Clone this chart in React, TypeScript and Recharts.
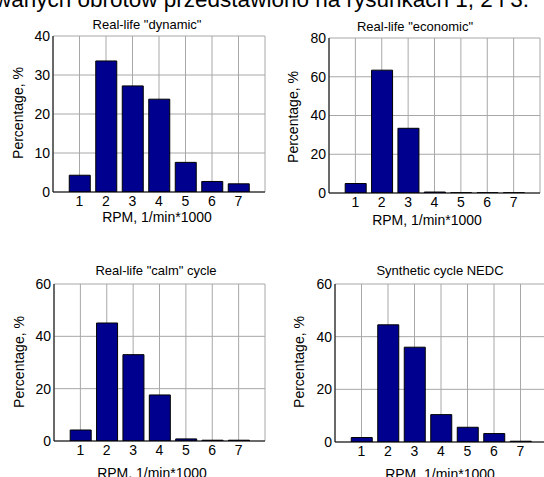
import React from "react";
import { BarChart, Bar, XAxis, YAxis, CartesianGrid } from "recharts";

// engine speed bins, 1/min * 1000
const rpm = [1, 2, 3, 4, 5, 6, 7];

// share of time spent in each speed bin, %
const dynamicShare = [4.3, 33.6, 27.2, 23.8, 7.6, 2.7, 2.1];
const economicShare = [4.9, 63.4, 33.4, 0.5, 0.1, 0.1, 0.1];
const calmShare = [4.2, 45.1, 33.0, 17.6, 0.8, 0.3, 0.3];
const nedcShare = [1.7, 44.5, 36.0, 10.4, 5.6, 3.2, 0.3];

const ticks40 = [0, 10, 20, 30, 40];
const ticks80 = [0, 20, 40, 60, 80];
const ticks60 = [0, 20, 40, 60];

const titles = [
  'Real-life "dynamic"',
  'Real-life "economic"',
  'Real-life "calm" cycle',
  "Synthetic cycle NEDC",
];

const FONT = '"Liberation Sans", Arial, Helvetica, sans-serif';
const BAR = "#00008f";
const GRID = "#a8a8a8";

const toRows = (values: number[]) => rpm.map((r, i) => ({ rpm: r, pct: values[i] }));

interface PanelProps {
  values: number[];
  yTicks: number[];
  box: { x: number; y: number; w: number; h: number };
}

function Panel({ values, yTicks, box }: PanelProps) {
  const yMax = yTicks[yTicks.length - 1];
  const tickStyle = { fill: "#000", fontSize: 14, fontFamily: FONT };
  // bars take 0.8 of the unit spacing on a 0..8 axis
  const barSize = Math.round((box.w / 8) * 0.8);
  return (
    <div style={{ position: "absolute", left: box.x - 45, top: box.y - 10 }}>
      <BarChart
        width={box.w + 55}
        height={box.h + 40}
        data={toRows(values)}
        margin={{ top: 10, right: 10, bottom: 0, left: 0 }}
      >
        <CartesianGrid stroke={GRID} />
        <XAxis
          dataKey="rpm"
          type="number"
          domain={[0, 8]}
          ticks={rpm}
          allowDataOverflow
          height={30}
          tickLine={false}
          tickSize={0}
          tickMargin={4}
          tick={tickStyle}
          axisLine={{ stroke: "#000" }}
        />
        {/* inward tick marks and the closing box edges */}
        <XAxis
          xAxisId="inB"
          dataKey="rpm"
          type="number"
          domain={[0, 8]}
          ticks={rpm}
          orientation="bottom"
          mirror
          height={0}
          tick={false}
          tickSize={3}
          axisLine={false}
          tickLine={{ stroke: "#000" }}
        />
        <XAxis
          xAxisId="top"
          dataKey="rpm"
          type="number"
          domain={[0, 8]}
          ticks={rpm}
          orientation="top"
          mirror
          height={0}
          tick={false}
          tickSize={3}
          axisLine={{ stroke: "#000" }}
          tickLine={{ stroke: "#000" }}
        />
        <YAxis
          type="number"
          domain={[0, yMax]}
          ticks={yTicks}
          allowDataOverflow
          width={45}
          tickLine={false}
          tickSize={0}
          tickMargin={3}
          tick={tickStyle}
          axisLine={{ stroke: "#000" }}
        />
        <YAxis
          yAxisId="inL"
          type="number"
          domain={[0, yMax]}
          ticks={yTicks}
          orientation="left"
          mirror
          width={0}
          tick={false}
          tickSize={3}
          axisLine={false}
          tickLine={{ stroke: "#000" }}
        />
        <YAxis
          yAxisId="right"
          type="number"
          domain={[0, yMax]}
          ticks={yTicks}
          orientation="right"
          mirror
          width={0}
          tick={false}
          tickSize={3}
          axisLine={{ stroke: "#000" }}
          tickLine={{ stroke: "#000" }}
        />
        <Bar
          dataKey="pct"
          fill={BAR}
          stroke="#000"
          strokeWidth={1}
          barSize={barSize}
          isAnimationActive={false}
        />
      </BarChart>
    </div>
  );
}

const panels = [
  { values: dynamicShare, yTicks: ticks40, box: { x: 53, y: 36, w: 212, h: 156 } },
  { values: economicShare, yTicks: ticks80, box: { x: 329, y: 38, w: 211, h: 155 } },
  { values: calmShare, yTicks: ticks60, box: { x: 54, y: 284, w: 211, h: 157 } },
  { values: nedcShare, yTicks: ticks60, box: { x: 335, y: 284, w: 212, h: 158 } },
];

const titlePos = [
  [147, 24],
  [415, 26],
  [156, 270],
  [440, 270],
];
const xLabelPos = [
  [157, 217],
  [427, 220],
  [152, 473],
  [440, 474],
];
const yLabelPos = [
  [18, 113],
  [293, 117],
  [19, 362],
  [299, 362],
];

export default function App() {
  return (
    <div
      style={{
        position: "absolute",
        left: 0,
        top: 0,
        width: 544,
        height: 477,
        overflow: "hidden",
        background: "#fff",
        fontFamily: FONT,
      }}
    >
      {panels.map((p, i) => (
        <Panel key={i} values={p.values} yTicks={p.yTicks} box={p.box} />
      ))}
      <svg
        width={544}
        height={477}
        style={{ position: "absolute", left: 0, top: 0, pointerEvents: "none" }}
        fontFamily={FONT}
      >
        {/* tail of the paragraph line above the figure */}
        <text x={-5} y={7} fontSize={22.5} fill="#000">
          wanych obrotów przedstawiono na rysunkach 1, 2 i 3.
        </text>
        {titles.map((t, i) => (
          <text
            key={"t" + i}
            x={titlePos[i][0]}
            y={titlePos[i][1]}
            fontSize={13}
            textAnchor="middle"
            dominantBaseline="central"
          >
            {t}
          </text>
        ))}
        {xLabelPos.map(([x, y], i) => (
          <text key={"x" + i} x={x} y={y} fontSize={14} textAnchor="middle" dominantBaseline="central">
            RPM, 1/min*1000
          </text>
        ))}
        {yLabelPos.map(([x, y], i) => (
          <text
            key={"y" + i}
            x={x}
            y={y}
            fontSize={14}
            textAnchor="middle"
            dominantBaseline="central"
            transform={`rotate(-90 ${x} ${y})`}
          >
            Percentage, %
          </text>
        ))}
      </svg>
    </div>
  );
}
